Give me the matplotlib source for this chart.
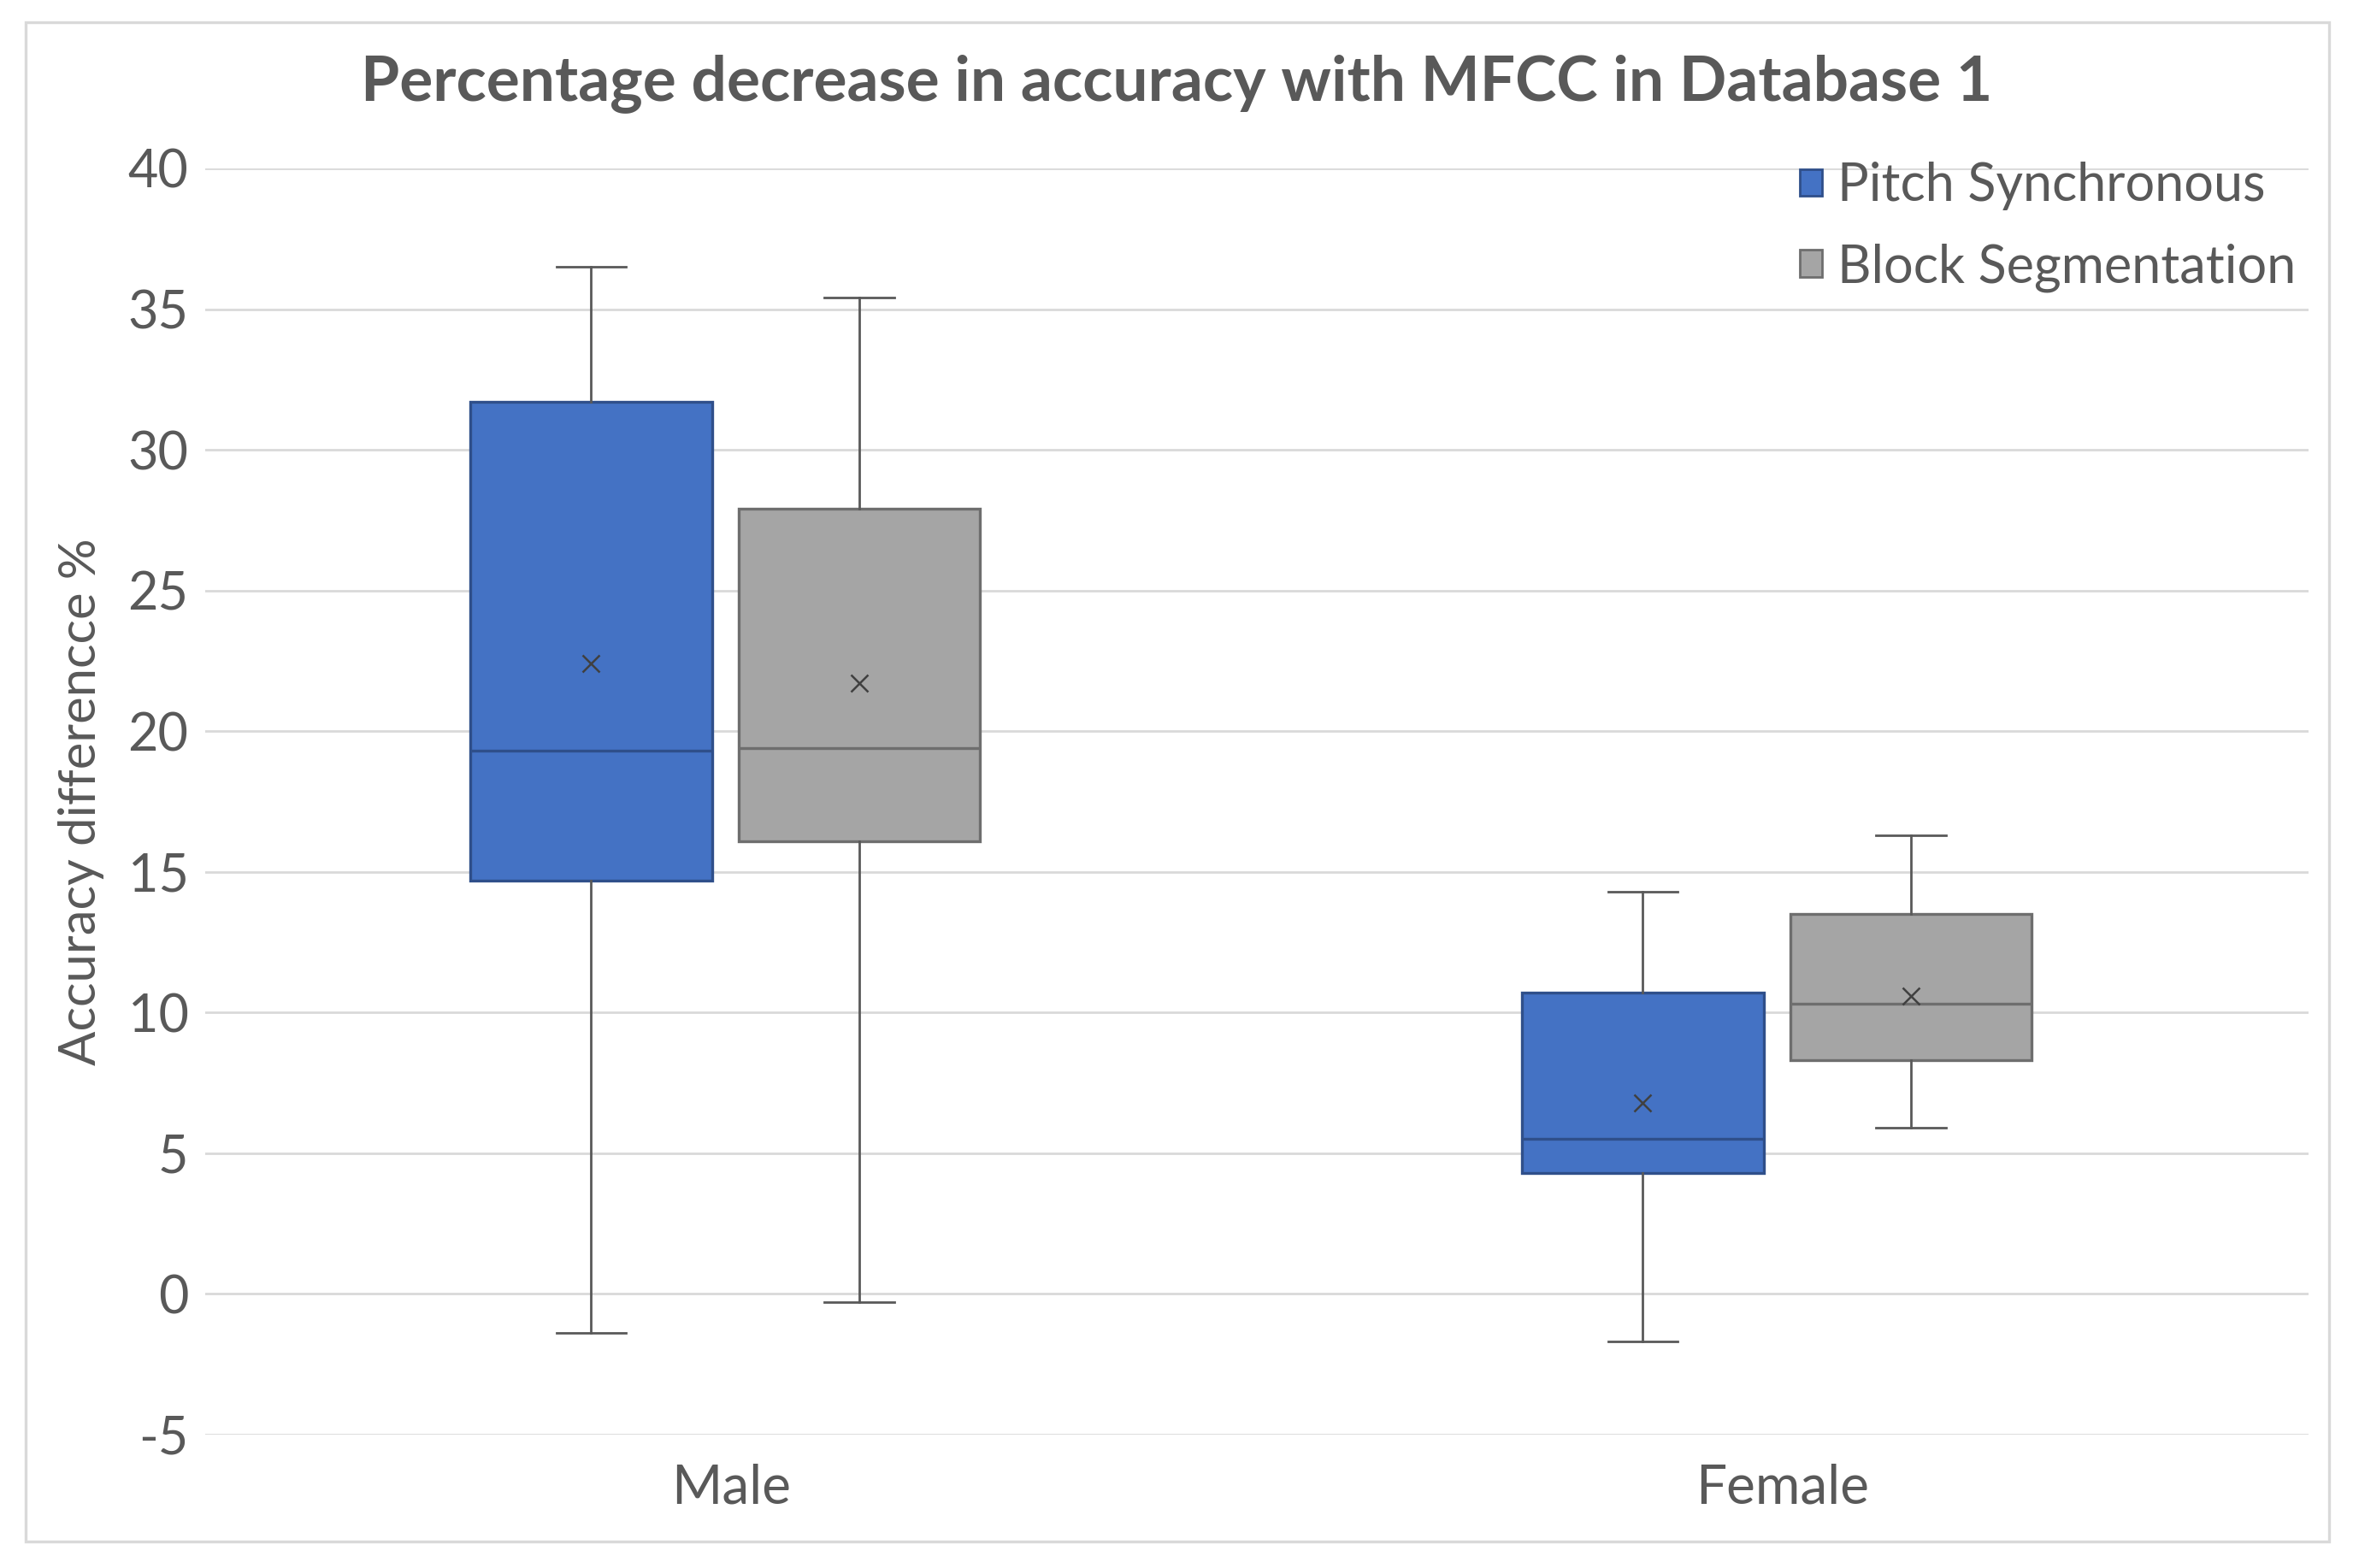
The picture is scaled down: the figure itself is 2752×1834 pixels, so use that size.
import matplotlib.pyplot as plt
from matplotlib.patches import Patch, Rectangle

# Data
categories = ["Male", "Female"]
series = ["Pitch Synchronous", "Block Segmentation"]
whislo = {"Pitch Synchronous": [-1.4, -1.7], "Block Segmentation": [-0.3, 5.9]}
q1 = {"Pitch Synchronous": [14.7, 4.3], "Block Segmentation": [16.1, 8.3]}
med = {"Pitch Synchronous": [19.3, 5.5], "Block Segmentation": [19.4, 10.3]}
q3 = {"Pitch Synchronous": [31.7, 10.7], "Block Segmentation": [27.9, 13.5]}
whishi = {"Pitch Synchronous": [36.5, 14.3], "Block Segmentation": [35.4, 16.3]}
means = {"Pitch Synchronous": [22.4, 6.8], "Block Segmentation": [21.7, 10.6]}
yticks = [-5, 0, 5, 10, 15, 20, 25, 30, 35, 40]

fills = {"Pitch Synchronous": "#4472C4", "Block Segmentation": "#A5A5A5"}
edges = {"Pitch Synchronous": "#2F4F8A", "Block Segmentation": "#6E6E6E"}
offsets = {"Pitch Synchronous": -0.133, "Block Segmentation": 0.122}
text_color = "#595959"

plt.rcParams['font.family'] = ['Lato', 'DejaVu Sans']
plt.rcParams['axes.unicode_minus'] = False

fig = plt.figure(figsize=(13.76, 9.17), dpi=200)
ax = fig.add_axes([0.0872, 0.0851, 0.8939, 0.8075])

# outer chart border
fig.patches.append(Rectangle((0.011, 0.017), 0.979, 0.969, transform=fig.transFigure,
                             fill=False, edgecolor="#D9D9D9", linewidth=1.2))

for s in series:
    stats = []
    for i in range(len(categories)):
        stats.append({"whislo": whislo[s][i], "q1": q1[s][i], "med": med[s][i],
                      "q3": q3[s][i], "whishi": whishi[s][i], "mean": means[s][i]})
    pos = [i + offsets[s] for i in range(len(categories))]
    ax.bxp(stats, positions=pos, widths=0.23, patch_artist=True, showmeans=True,
           showfliers=False, manage_ticks=False,
           boxprops=dict(facecolor=fills[s], edgecolor=edges[s], linewidth=1.2),
           medianprops=dict(color=edges[s], linewidth=1.2),
           whiskerprops=dict(color="#595959", linewidth=1.0),
           capprops=dict(color="#595959", linewidth=1.0),
           capwidths=0.066,
           meanprops=dict(marker="x", markeredgecolor="#404040", markersize=7,
                          markeredgewidth=0.9))

ax.set_xlim(-0.5, 1.5)
ax.set_ylim(-5, 40)
ax.set_yticks(yticks)
ax.set_xticks(range(len(categories)))
ax.set_xticklabels(categories)
ax.tick_params(axis="both", length=0, labelsize=22, colors=text_color)
ax.tick_params(axis="x", labelsize=23, pad=12)
ax.tick_params(axis="y", pad=7)
ax.grid(axis="y", color="#D9D9D9", linewidth=1.0)
ax.set_axisbelow(True)
for sp in ax.spines.values():
    sp.set_visible(False)

ax.set_ylabel("Accuracy differencce %", fontsize=21.5, color=text_color, labelpad=10)
fig.text(0.5, 0.947, "Percentage decrease in accuracy with MFCC in Database 1", fontsize=26.3,
         fontweight="bold", color=text_color, ha="center", va="center")

handles = [Patch(facecolor=fills[s], edgecolor=edges[s], label=s) for s in series]
ax.legend(handles=handles, loc="upper right", bbox_to_anchor=(1.009, 1.03), frameon=False,
          fontsize=22, labelcolor=text_color, handlelength=0.42, handleheight=0.42,
          handletextpad=0.3, labelspacing=0.62, borderaxespad=0.2)

fig.savefig("out.png", dpi=200, facecolor="white")
